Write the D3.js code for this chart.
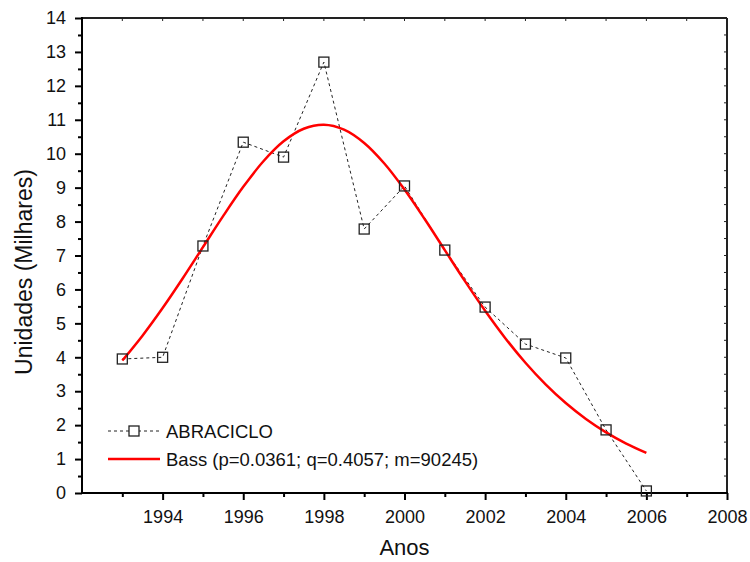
<!DOCTYPE html>
<html>
<head>
<meta charset="utf-8">
<script src="https://cdn.jsdelivr.net/npm/d3@7"></script>
<style>
  body { margin: 0; background: #fff; }
  svg { display: block; font-family: "Liberation Sans", Arial, sans-serif; }
</style>
</head>
<body>
<svg id="chart" width="750" height="562"></svg>
<script>
// Observed annual sales (thousands of units)
const years = [1993, 1994, 1995, 1996, 1997, 1998, 1999, 2000, 2001, 2002, 2003, 2004, 2005, 2006];
const sales = [3.95, 4.0, 7.28, 10.34, 9.9, 12.7, 7.78, 9.05, 7.16, 5.48, 4.39, 3.98, 1.86, 0.06];

// Fitted Bass curve, sampled every half year
const bassYears = [1993, 1993.5, 1994, 1994.5, 1995, 1995.5, 1996, 1996.5, 1997, 1997.5, 1998, 1998.5,
  1999, 1999.5, 2000, 2000.5, 2001, 2001.5, 2002, 2002.5, 2003, 2003.5, 2004, 2004.5, 2005, 2005.5, 2006];
const bassValues = [3.904, 4.637, 5.451, 6.329, 7.245, 8.160, 9.023, 9.777, 10.365, 10.735, 10.855, 10.711,
  10.318, 9.712, 8.944, 8.074, 7.158, 6.244, 5.371, 4.564, 3.839, 3.202, 2.651, 2.182, 1.787, 1.457, 1.183];

const xMajorTicks = [1994, 1996, 1998, 2000, 2002, 2004, 2006, 2008];
const yMajorTicks = [0, 1, 2, 3, 4, 5, 6, 7, 8, 9, 10, 11, 12, 13, 14];

const seriesLabels = ["ABRACICLO", "Bass (p=0.0361; q=0.4057; m=90245)"];

const pLeft = 82, pRight = 727, pTop = 18, pBottom = 493;
const svg = d3.select("#chart");

const x = d3.scaleLinear().domain([1992, 2008]).range([pLeft, pRight]);
const y = d3.scaleLinear().domain([0, 14]).range([pBottom, pTop]);

const xMinor = d3.range(1993, 2008, 2);
const yMinor = d3.range(0.5, 14, 1);

// Frame: top and right sides
svg.append("line").attr("x1", pLeft).attr("x2", pRight).attr("y1", pTop).attr("y2", pTop)
  .attr("stroke", "#222").attr("stroke-width", 2);
svg.append("line").attr("x1", pRight).attr("x2", pRight).attr("y1", pTop).attr("y2", pBottom)
  .attr("stroke", "#222").attr("stroke-width", 2);

// Inward ticks on top and right
svg.append("g").selectAll("line").data(d3.range(1993, 2008, 1)).join("line")
  .attr("x1", d => x(d)).attr("x2", d => x(d)).attr("y1", pTop).attr("y2", pTop + 3)
  .attr("stroke", "#222").attr("stroke-width", 1);
svg.append("g").selectAll("line").data(d3.range(0.5, 14, 0.5)).join("line")
  .attr("y1", d => y(d)).attr("y2", d => y(d)).attr("x1", pRight).attr("x2", pRight - 3)
  .attr("stroke", "#222").attr("stroke-width", 1);

// Bottom axis
const xAxis = svg.append("g").attr("transform", `translate(0,${pBottom})`)
  .call(d3.axisBottom(x).tickValues(xMajorTicks).tickFormat(d3.format("d")).tickSize(7).tickPadding(10));
const xAxisMinor = svg.append("g").attr("transform", `translate(0,${pBottom})`)
  .call(d3.axisBottom(x).tickValues(xMinor).tickFormat("").tickSize(4));

// Left axis
const yAxis = svg.append("g").attr("transform", `translate(${pLeft},0)`)
  .call(d3.axisLeft(y).tickValues(yMajorTicks).tickFormat(d3.format("d")).tickSize(7).tickPadding(9));
const yAxisMinor = svg.append("g").attr("transform", `translate(${pLeft},0)`)
  .call(d3.axisLeft(y).tickValues(yMinor).tickFormat("").tickSize(4));

[xAxis, xAxisMinor, yAxis, yAxisMinor].forEach(g => {
  g.select(".domain").attr("stroke", "#000").attr("stroke-width", 2);
  g.selectAll(".tick line").attr("stroke", "#000").attr("stroke-width", 2);
  g.selectAll(".tick text").attr("fill", "#111").style("font-size", "18px")
    .style("font-family", "'Liberation Sans', Arial, sans-serif");
});
xAxis.select(".domain").attr("d", `M${pLeft},0H${pRight + 1}`);
xAxisMinor.select(".domain").remove();
yAxis.select(".domain").attr("d", `M0,${pBottom + 1}V${pTop - 1}`);
yAxisMinor.select(".domain").remove();

// Axis titles
svg.append("text").attr("x", (pLeft + pRight) / 2).attr("y", 555)
  .attr("text-anchor", "middle").style("font-size", "22px").attr("fill", "#111").text("Anos");
svg.append("text").attr("transform", `translate(32,272) rotate(-90)`)
  .attr("text-anchor", "middle").style("font-size", "23px").attr("fill", "#111").text("Unidades (Milhares)");

// Observed series: dashed line with square markers
const pts = years.map((d, i) => [d, sales[i]]);
svg.append("path").datum(pts)
  .attr("fill", "none").attr("stroke", "#222").attr("stroke-width", 1)
  .attr("stroke-dasharray", "3,3")
  .attr("d", d3.line().x(d => x(d[0])).y(d => y(d[1])));

// Bass curve
const bassPts = bassYears.map((d, i) => [d, bassValues[i]]);
svg.append("path").datum(bassPts)
  .attr("fill", "none").attr("stroke", "#f00").attr("stroke-width", 2.5)
  .attr("d", d3.line().x(d => x(d[0])).y(d => y(d[1])).curve(d3.curveCatmullRom));

// Square markers
const ms = 10;
svg.append("g").selectAll("rect").data(pts).join("rect")
  .attr("x", d => x(d[0]) - ms / 2).attr("y", d => y(d[1]) - ms / 2)
  .attr("width", ms).attr("height", ms)
  .attr("fill", "none").attr("stroke", "#222").attr("stroke-width", 1.3);

// Legend
const lg = svg.append("g");
lg.append("line").attr("x1", 108).attr("x2", 160).attr("y1", 431).attr("y2", 431)
  .attr("stroke", "#222").attr("stroke-width", 1).attr("stroke-dasharray", "3,3");
lg.append("rect").attr("x", 129).attr("y", 426).attr("width", ms).attr("height", ms)
  .attr("fill", "#fff").attr("stroke", "#222").attr("stroke-width", 1.3);
lg.append("text").attr("x", 166).attr("y", 438).style("font-size", "18.5px").attr("fill", "#111")
  .text(seriesLabels[0]);
lg.append("line").attr("x1", 108).attr("x2", 160).attr("y1", 459).attr("y2", 459)
  .attr("stroke", "#f00").attr("stroke-width", 2.5);
lg.append("text").attr("x", 166).attr("y", 466).style("font-size", "18.5px").attr("fill", "#111")
  .text(seriesLabels[1]);
</script>
</body>
</html>
